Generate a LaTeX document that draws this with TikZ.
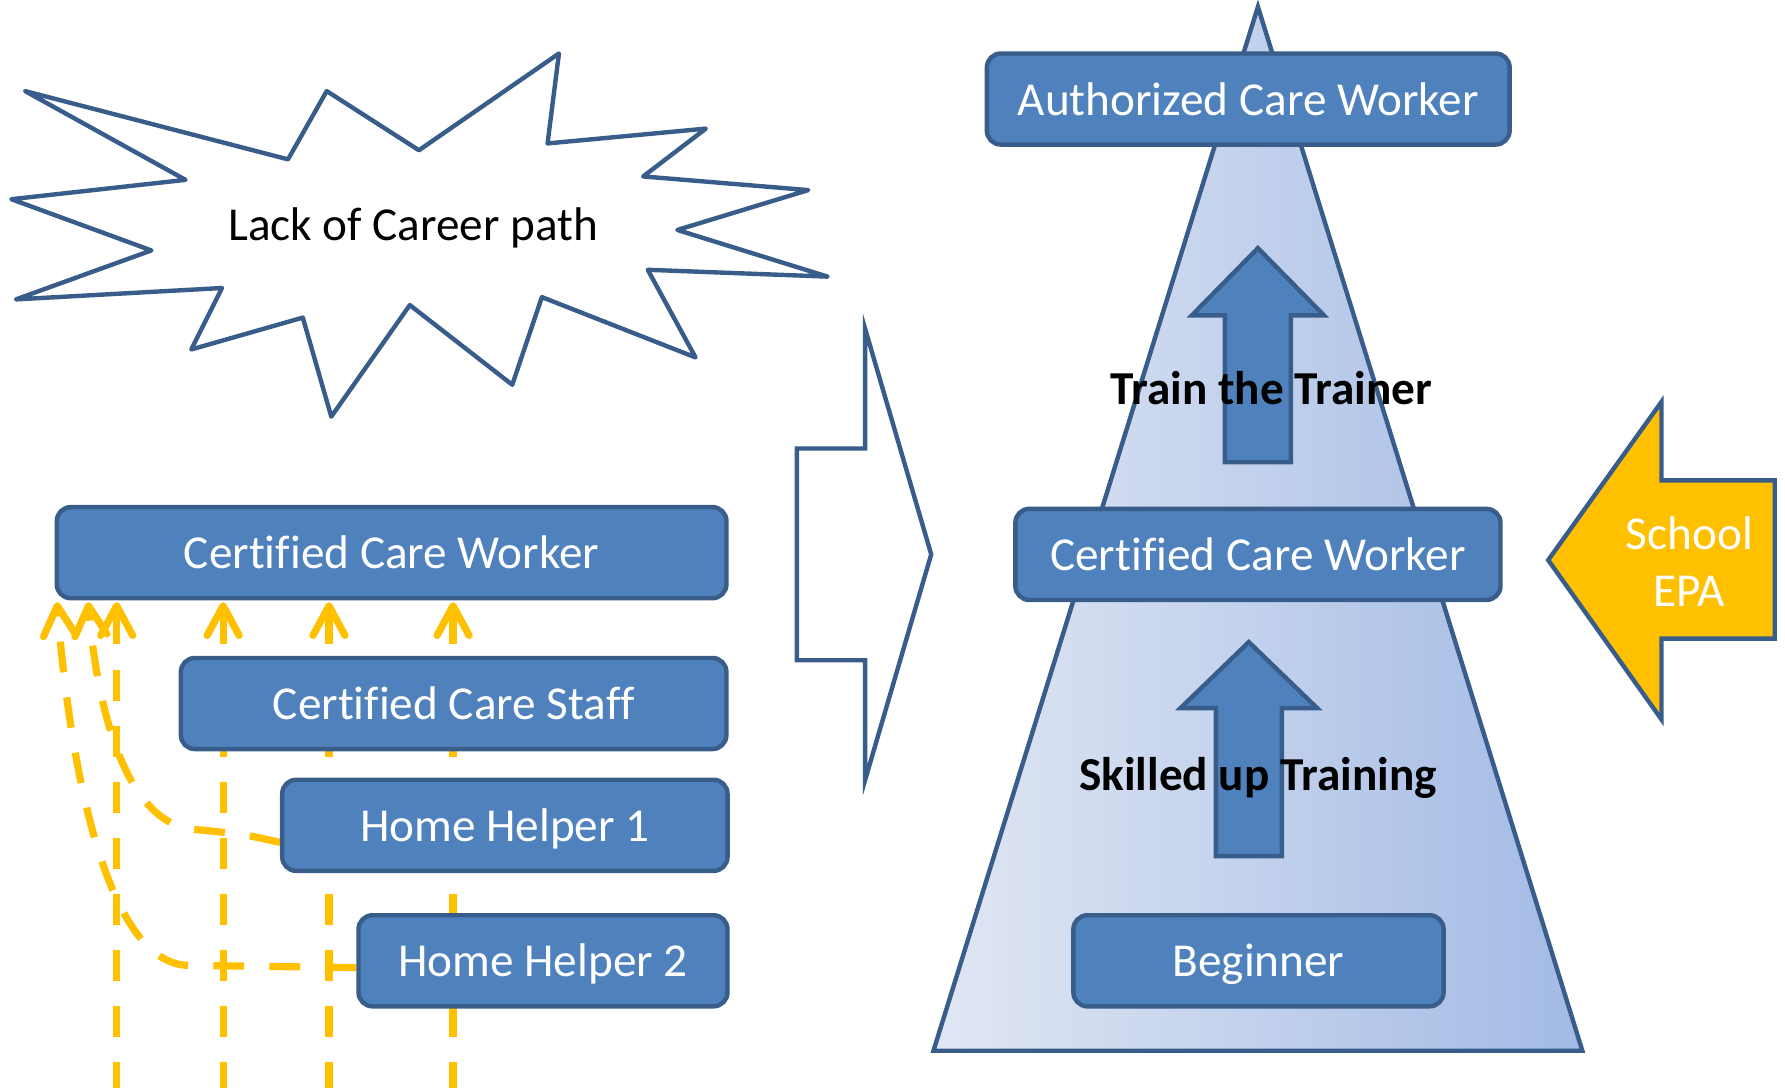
\documentclass[tikz,border=0pt]{standalone}
\usepackage{fontspec}
\setmainfont{Carlito}[Ligatures=CommonOff]
\usetikzlibrary{positioning, arrows.meta, backgrounds}

\definecolor{boxblue}{HTML}{4F81BD}
\definecolor{edgeblue}{HTML}{385D8A}
\definecolor{epagold}{HTML}{FFC000}
\definecolor{triLight}{HTML}{E1E7F3}
\definecolor{triDark}{HTML}{A2BAE5}

\begin{document}
\begin{tikzpicture}[x=0.01cm, y=-0.01cm,
    txt/.style={font=\fontsize{11.8}{14.2}\selectfont, text height=10pt, text depth=2pt},
    carebox/.style={txt, draw=edgeblue, line width=1.1pt, fill=boxblue, rounded corners=3.5pt,
        text=white, minimum height=0.8cm, inner sep=0pt},
    outline/.style={draw=edgeblue, line width=1.1pt, line join=miter},
    dashline/.style={epagold, line width=1.8pt, dash pattern=on 7.7pt off 6.3pt,
        -{Straight Barb[length=7.4pt, width=8pt, round]}}]
    \useasboundingbox (0,0) rectangle (1568,955);
    % star
    \draw[outline, line join=round] (22,80) -- (253,140) -- (287,80) -- (368,132) -- (491,47)
        -- (481,126) -- (620,113) -- (565,155) -- (710,167) -- (595,202) -- (727,243)
        -- (569,237) -- (611,314) -- (476,261) -- (450,338) -- (360,268) -- (291,366)
        -- (266,279) -- (168,307) -- (195,253) -- (14,263) -- (133,220) -- (10,175)
        -- (163,158) -- cycle;
    \node[txt] (lack) at (363,197) {Lack of Career path};
    % left column
    \node[carebox, minimum width=5.88cm] (ccwL) at (344,485.5) {Certified Care Worker};
    \node[carebox, minimum width=4.79cm] (ccs) at (398.5,618) {Certified Care Staff};
    \node[carebox, minimum width=3.91cm] (hh1) at (443.5,725) {Home Helper 1};
    \node[carebox, minimum width=3.24cm] (hh2) at (477,844) {Home Helper 2};
    % dashed paths up to the certified care worker
    \coordinate (t1) at (50,529);
    \coordinate (t2) at (77.5,529);
    \coordinate (t3) at (102.5,529);
    \coordinate (t4) at (196,529);
    \coordinate (t5) at (289,529);
    \coordinate (t6) at (398,529);
    \coordinate (b3) at (102.5,960);
    \coordinate (b4) at (196,960);
    \coordinate (b5) at (289,960);
    \coordinate (b6) at (398,960);
    \begin{pgfonlayer}{background}
        \draw[dashline] (b3) -- (t3);
        \draw[dashline] (b4) -- (t4);
        \draw[dashline] (b5) -- (t5);
        \draw[dashline] (b6) -- (t6);
        \draw[dashline] ([yshift=-0.15cm]hh1.west) .. controls (215,733) .. (175,729)
            .. controls (110,728) and (85,620) .. (t2);
        \draw[dashline] ([yshift=-0.06cm]hh2.west) -- (165,848)
            .. controls (95,846) and (62,680) .. (t1);
    \end{pgfonlayer}
    % hollow arrow
    \draw[outline] (700,394) -- (760,394) -- (760,289) -- (818,487) -- (760,685)
        -- (760,580) -- (700,580) -- cycle;
    % pyramid
    \coordinate (apex) at (1105,6);
    \coordinate (baseL) at (820,923);
    \coordinate (baseR) at (1390,923);
    \draw[outline, left color=triLight, right color=triDark]
        (apex) -- (baseR) -- (baseL) -- cycle;
    \draw[outline, fill=boxblue] (1105,218) -- (1163,277) -- (1134,277) -- (1134,406)
        -- (1076,406) -- (1076,277) -- (1047,277) -- cycle;
    \draw[outline, fill=boxblue] (1097,564) -- (1157,622) -- (1126,622) -- (1126,752)
        -- (1068,752) -- (1068,622) -- (1037,622) -- cycle;
    \node[txt, font=\fontsize{11.8}{14.2}\selectfont\bfseries] (trainer) at (1117,341) {Train the Trainer};
    \node[txt, font=\fontsize{11.8}{14.2}\selectfont\bfseries] (skilled) at (1105,680) {Skilled up Training};
    \node[carebox, minimum width=4.59cm] (acw) at (1096.5,87) {Authorized Care Worker};
    \node[carebox, minimum width=4.26cm] (ccwR) at (1105,487) {Certified Care Worker};
    \node[carebox, minimum width=3.25cm] (beg) at (1105.5,844) {Beginner};
    % school arrow
    \draw[outline, fill=epagold] (1360,492) -- (1459.5,353) -- (1459.5,422) -- (1559,422)
        -- (1559,561) -- (1459.5,561) -- (1459.5,632) -- cycle;
    \node[font=\fontsize{11.8}{14.2}\selectfont, text=white, align=center] (epa) at (1484,493) {School\\EPA};
\end{tikzpicture}
\end{document}
